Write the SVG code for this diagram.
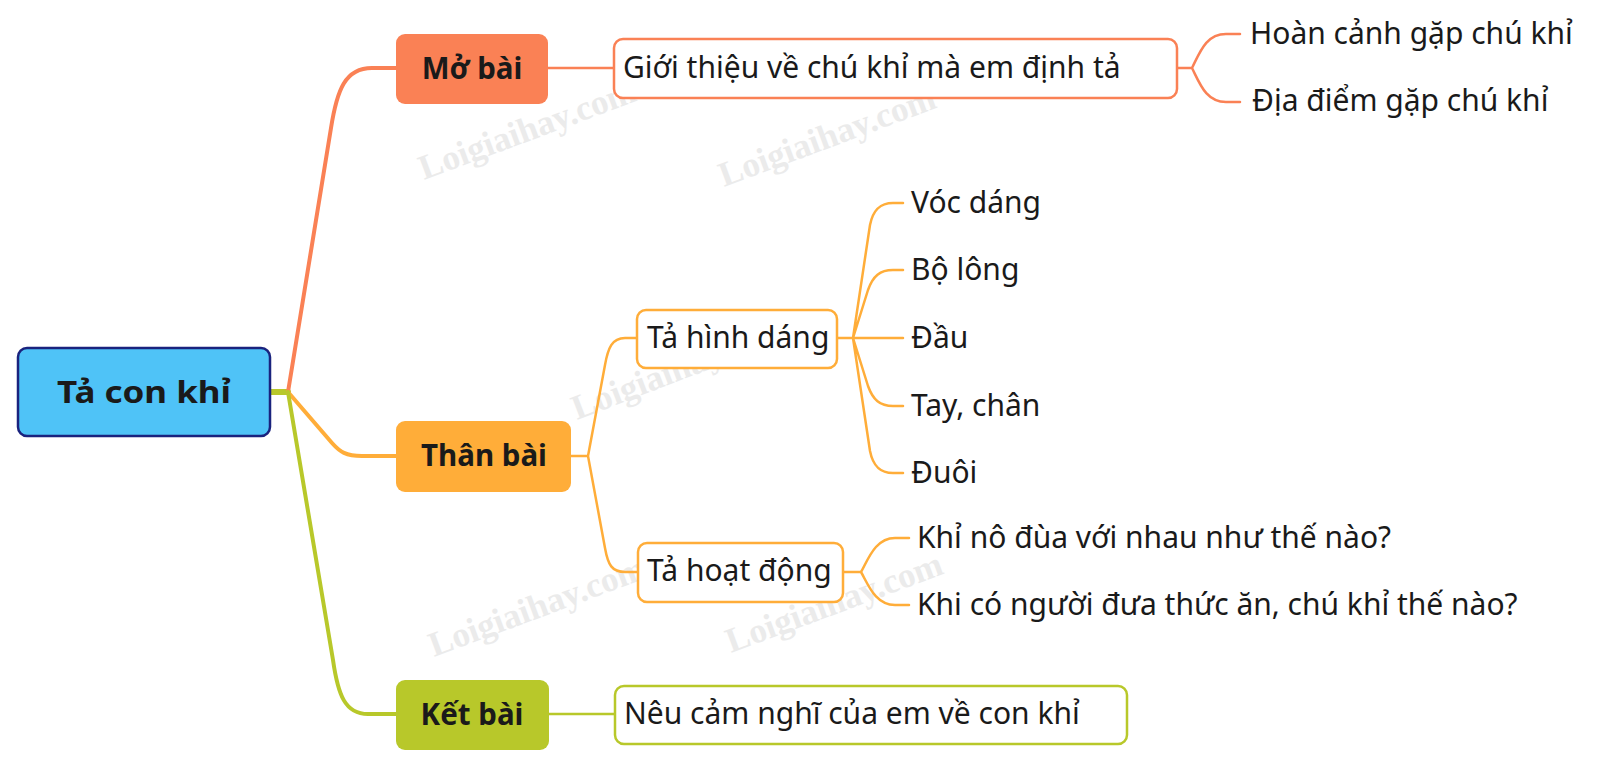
<svg xmlns="http://www.w3.org/2000/svg" width="1614" height="765" viewBox="0 0 1614 765">
<style>
.wm{font-family:"Liberation Serif",serif;font-weight:bold;font-size:35px;fill:#ebebeb}
.t{font-family:"Noto Sans",Lato,sans-serif;font-size:30px;fill:#1a1a1a}
.b{font-family:"Noto Sans",Lato,sans-serif;font-size:29.5px;font-weight:bold;fill:#1a1a1a}
.c{fill:none;stroke-linecap:round;stroke-linejoin:round}
.co{stroke:#FA8155}.or{stroke:#FFAD39}.gr{stroke:#B8C82A}
.w4{stroke-width:4}.w2{stroke-width:2.5}
</style>
<rect width="1614" height="765" fill="#fff"/>
<g id="watermarks">
<text class="wm" transform="translate(424,180) rotate(-20.4)">Loigiaihay.com</text>
<text class="wm" transform="translate(724,187) rotate(-20.4)">Loigiaihay.com</text>
<text class="wm" transform="translate(577,420) rotate(-21)">Loigiaihay.com</text>
<text class="wm" transform="translate(434,657) rotate(-20.4)">Loigiaihay.com</text>
<text class="wm" transform="translate(731,653) rotate(-20.4)">Loigiaihay.com</text>
</g>
<g id="connectors">
<path class="c gr" stroke-width="6" d="M270,392 H288"/>
<path class="c co w4" d="M288,392 L331,128 C337,90 345,68 372,68 H396"/>
<path class="c or w4" d="M288,392 L332,443 C340,452 346,456 362,456 H396"/>
<path class="c gr w4" d="M288,392 L333,660 C338,695 345,714 368,714 H396"/>
<path class="c co w2" d="M548,68 H614"/>
<path class="c co w2" d="M1177,68 H1192 C1200,52 1206,34 1226,34 H1240 M1192,68 C1200,84 1206,102 1226,102 H1240"/>
<path class="c or w2" d="M571,456 H588 L605,365 C608,348 612,338 625,338 H637 M588,456 L605,548 C608,565 612,572 625,572 H638"/>
<path class="c or w2" d="M837,338 H903 M853,338 L870,225 C873,210 880,203 893,203 H903 M853,338 L868,290 C873,276 880,270 893,270 H903 M853,338 L868,386 C873,400 880,406 893,406 H903 M853,338 L870,451 C873,466 880,473 893,473 H903"/>
<path class="c or w2" d="M843,572 H861 C868,560 875,538 895,538 H909 M861,572 C868,584 875,605 895,605 H909"/>
<path class="c gr w2" d="M549,714 H615"/>
</g>
<g id="root">
<rect x="18" y="348" width="252" height="88" rx="9" fill="#4FC3F7" stroke="#1A237E" stroke-width="2.5"/>
<text class="b" x="57" y="403" font-size="33" textLength="174" lengthAdjust="spacingAndGlyphs">Tả con khỉ</text>
</g>
<g id="mo-bai">
<rect x="396" y="34" width="152" height="70" rx="9" fill="#FA8155"/>
<text class="b" x="472" y="79" text-anchor="middle">Mở bài</text>
</g>
<g id="than-bai">
<rect x="396" y="421" width="175" height="71" rx="9" fill="#FFAD39"/>
<text class="b" x="484" y="466" text-anchor="middle">Thân bài</text>
</g>
<g id="ket-bai">
<rect x="396" y="680" width="153" height="70" rx="9" fill="#B8C82A"/>
<text class="b" x="472" y="725" text-anchor="middle">Kết bài</text>
</g>
<g id="gioi-thieu">
<rect x="614" y="39" width="563" height="59" rx="9" fill="#fff" stroke="#FA8155" stroke-width="2.5"/>
<text class="t" x="623" y="78">Giới thiệu về chú khỉ mà em định tả</text>
</g>
<g id="hoan-canh"><text class="t" x="1250" y="44">Hoàn cảnh gặp chú khỉ</text></g>
<g id="dia-diem"><text class="t" x="1252" y="111">Địa điểm gặp chú khỉ</text></g>
<g id="ta-hinh-dang">
<rect x="637" y="310" width="200" height="58" rx="9" fill="#fff" stroke="#FFAD39" stroke-width="2.5"/>
<text class="t" x="647" y="348">Tả hình dáng</text>
</g>
<g id="voc-dang"><text class="t" x="911" y="213">Vóc dáng</text></g>
<g id="bo-long"><text class="t" x="911" y="280">Bộ lông</text></g>
<g id="dau"><text class="t" x="911" y="348">Đầu</text></g>
<g id="tay-chan"><text class="t" x="911" y="416">Tay, chân</text></g>
<g id="duoi"><text class="t" x="911" y="483">Đuôi</text></g>
<g id="ta-hoat-dong">
<rect x="638" y="543" width="205" height="59" rx="9" fill="#fff" stroke="#FFAD39" stroke-width="2.5"/>
<text class="t" x="647" y="581">Tả hoạt động</text>
</g>
<g id="khi-no-dua"><text class="t" x="917" y="548">Khỉ nô đùa với nhau như thế nào?</text></g>
<g id="khi-co-nguoi"><text class="t" x="917" y="615">Khi có người đưa thức ăn, chú khỉ thế nào?</text></g>
<g id="neu-cam-nghi">
<rect x="615" y="686" width="512" height="58" rx="9" fill="#fff" stroke="#B8C82A" stroke-width="2.5"/>
<text class="t" x="624" y="724">Nêu cảm nghĩ của em về con khỉ</text>
</g>
</svg>
